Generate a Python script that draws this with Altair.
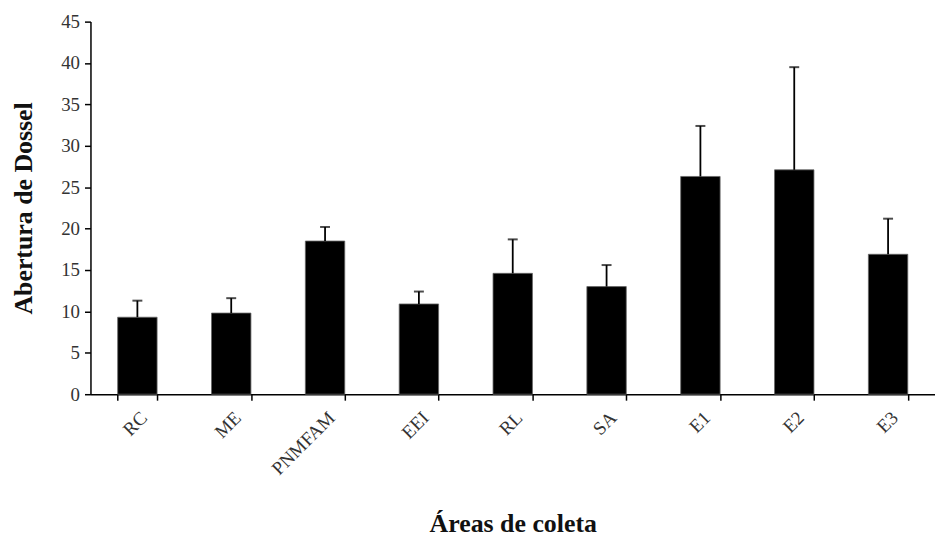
import altair as alt
import pandas as pd

areas = ["RC", "ME", "PNMFAM", "EEI", "RL", "SA", "E1", "E2", "E3"]
means = [9.3, 9.8, 18.5, 10.9, 14.6, 13.0, 26.3, 27.1, 16.9]
uppers = [11.3, 11.6, 20.2, 12.4, 18.7, 15.6, 32.4, 39.5, 21.2]

df = pd.DataFrame({"area": areas, "mean": means, "upper": uppers})

FONT = "Liberation Serif"

x = alt.X("area:N", sort=areas, title="Áreas de coleta",
          scale=alt.Scale(paddingInner=0.58, paddingOuter=0.29),
          axis=alt.Axis(labelAngle=-45, labelFont=FONT, labelFontSize=19,
                        labelColor="#333", labelAlign="right", labelBaseline="top",
                        titleFont=FONT, titleFontSize=26, titleFontWeight="bold",
                        titleColor="#111", titlePadding=32,
                        tickBand="extent", tickSize=6, tickColor="black",
                        domainColor="black", domainWidth=1.5, tickWidth=1.5,
                        labelPadding=8))
y_scale = alt.Scale(domain=[0, 45])

bars = alt.Chart(df).mark_bar(color="black", stroke="#666", strokeWidth=0.8).encode(
    x=x,
    y=alt.Y("mean:Q", scale=y_scale, title="Abertura de Dossel",
            axis=alt.Axis(values=list(range(0, 46, 5)), grid=False,
                          labelFont=FONT, labelFontSize=19, labelColor="#333",
                          titleFont=FONT, titleFontSize=26, titleFontWeight="bold",
                          titleColor="#111", titlePadding=24,
                          tickSize=6, tickColor="black", tickWidth=1.5,
                          domainColor="black", domainWidth=1.5, labelPadding=5)),
)

rules = alt.Chart(df).mark_rule(color="black", strokeWidth=1.8).encode(
    x=alt.X("area:N", sort=areas),
    y=alt.Y("mean:Q", scale=y_scale),
    y2="upper:Q",
)

caps = alt.Chart(df).mark_tick(color="black", thickness=2, size=10, orient="horizontal").encode(
    x=alt.X("area:N", sort=areas),
    y=alt.Y("upper:Q", scale=y_scale),
)

chart = (bars + rules + caps).properties(
    width=850, height=375,
    padding={"left": 3, "top": 3, "right": 0, "bottom": 0},
).configure_view(stroke=None)

chart.save("out.html", embed_options={"renderer": "svg", "actions": False})
